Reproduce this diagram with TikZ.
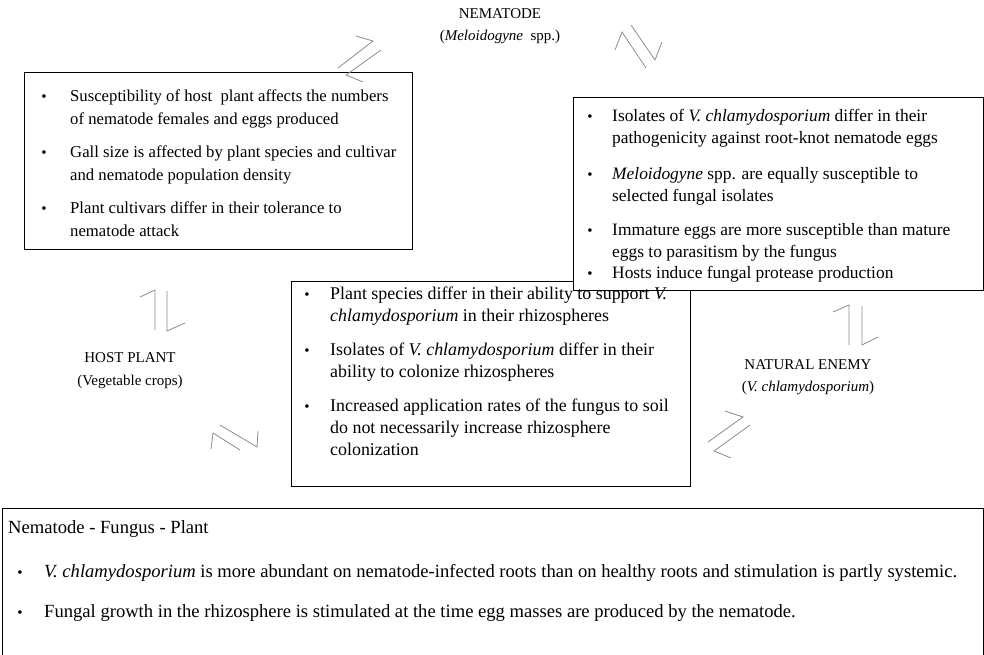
\documentclass[tikz,border=0pt]{standalone}
\usepackage{fontspec}
\setmainfont{Liberation Serif}
\begin{document}
\begin{tikzpicture}[x=1pt,y=-1pt,
  ltxt/.style={anchor=base west,inner sep=0pt,font=\fontsize{16.7}{18}\selectfont},
  rtxt/.style={anchor=base west,inner sep=0pt,font=\fontsize{17.4}{18}\selectfont},
  ctxt/.style={anchor=base west,inner sep=0pt,font=\fontsize{17.9}{18}\selectfont},
  btxt/.style={anchor=base west,inner sep=0pt,font=\fontsize{18.6}{20}\selectfont},
  lbl/.style={anchor=base,inner sep=0pt,font=\fontsize{15}{18}\selectfont},
  bul/.style={anchor=base,inner sep=0pt,font=\fontsize{15}{18}\selectfont},
  box/.style={draw=black,line width=0.9pt,anchor=north west,inner sep=0pt},
  harp/.style={draw=black!45,line width=0.8pt,line join=miter}]
\useasboundingbox (0,0) rectangle (984,655);
% boxes
\node[box,minimum width=388pt,minimum height=177pt] (lbox) at (24,72) {};
\node[box,minimum width=399pt,minimum height=205pt] (cbox) at (291,281) {};
\node[box,fill=white,minimum width=410pt,minimum height=193pt] (rbox) at (573,97) {};
\node[box,minimum width=981pt,minimum height=170pt] (bbox) at (2,508) {};
% titles
\node[lbl] (nem1) at (500,19) {NEMATODE};
\node[lbl] (nem2) at (500,41) {(\textit{Meloidogyne}\ \ spp.)};
\node[lbl] (host1) at (130,362) {HOST PLANT};
\node[lbl] (host2) at (130,385) {(Vegetable crops)};
\node[lbl] (ne1) at (808,369) {NATURAL ENEMY};
\node[lbl] (ne2) at (808,391) {(\textit{V. chlamydosporium})};
% left box
\node[bul] (lb1) at (44,102) {•};
\node[bul] (lb2) at (44,158) {•};
\node[bul] (lb3) at (44,213) {•};
\node[ltxt] (l1a) at (70,102) {Susceptibility of host\ \ plant affects the numbers};
\node[ltxt] (l1b) at (70,125) {of nematode females and eggs produced};
\node[ltxt] (l2a) at (70,158) {Gall size is affected by plant species and cultivar};
\node[ltxt] (l2b) at (70,181) {and nematode population density};
\node[ltxt] (l3a) at (70,213) {Plant cultivars differ in their tolerance to};
\node[ltxt] (l3b) at (70,236) {nematode attack};
% right box
\node[bul] (rb1) at (590,122) {•};
\node[bul] (rb2) at (590,179) {•};
\node[bul] (rb3) at (590,235) {•};
\node[bul] (rb4) at (590,278) {•};
\node[rtxt] (r1a) at (612,122) {Isolates of \textit{V. chlamydosporium} differ in their};
\node[rtxt] (r1b) at (612,144) {pathogenicity against root-knot nematode eggs};
\node[rtxt] (r2a) at (612,179) {\textit{Meloidogyne} spp. are equally susceptible to};
\node[rtxt] (r2b) at (612,201) {selected fungal isolates};
\node[rtxt] (r3a) at (612,235) {Immature eggs are more susceptible than mature};
\node[rtxt] (r3b) at (612,257) {eggs to parasitism by the fungus};
\node[rtxt] (r4)  at (612,278) {Hosts induce fungal protease production};
% center box
\node[bul] (cb1) at (307,299) {•};
\node[bul] (cb2) at (307,355) {•};
\node[bul] (cb3) at (307,411) {•};
\node[ctxt] (c1a) at (330,299) {Plant species differ in their ability to support \textit{V.}};
\node[ctxt] (c1b) at (330,321) {\textit{chlamydosporium} in their rhizospheres};
\node[ctxt] (c2a) at (330,355) {Isolates of \textit{V. chlamydosporium} differ in their};
\node[ctxt] (c2b) at (330,377) {ability to colonize rhizospheres};
\node[ctxt] (c3a) at (330,411) {Increased application rates of the fungus to soil};
\node[ctxt] (c3b) at (330,433) {do not necessarily increase rhizosphere};
\node[ctxt] (c3c) at (330,455) {colonization};
% bottom box
\node[btxt] (bt) at (8,533) {Nematode - Fungus - Plant};
\node[bul] (bb1) at (20,577) {•};
\node[bul] (bb2) at (20,617) {•};
\node[btxt] (b1) at (44,577) {\textit{V. chlamydosporium} is more abundant on nematode-infected roots than on healthy roots and stimulation is partly systemic.};
\node[btxt] (b2) at (44,617) {Fungal growth in the rhizosphere is stimulated at the time egg masses are produced by the nematode.};
% harpoon pairs
\draw[harp] (338,68) -- (373,41) -- (356,36);
\draw[harp] (381,50) -- (346,75) -- (363,82);
\draw[harp] (646,68) -- (622,32) -- (615,50);
\draw[harp] (631,25) -- (655,60) -- (662,42);
\draw[harp] (155,330) -- (155,290) -- (140,297);
\draw[harp] (167,291) -- (167,331) -- (185,323);
\draw[harp] (849,345) -- (849,305) -- (833,312);
\draw[harp] (862,306) -- (862,345) -- (878,337);
\draw[harp] (220,425) -- (257,447) -- (258,431);
\draw[harp] (240,450) -- (213,433) -- (211,449);
\draw[harp] (708,442) -- (743,417) -- (725,411);
\draw[harp] (750,425) -- (714,451) -- (731,458);
\end{tikzpicture}
\end{document}
